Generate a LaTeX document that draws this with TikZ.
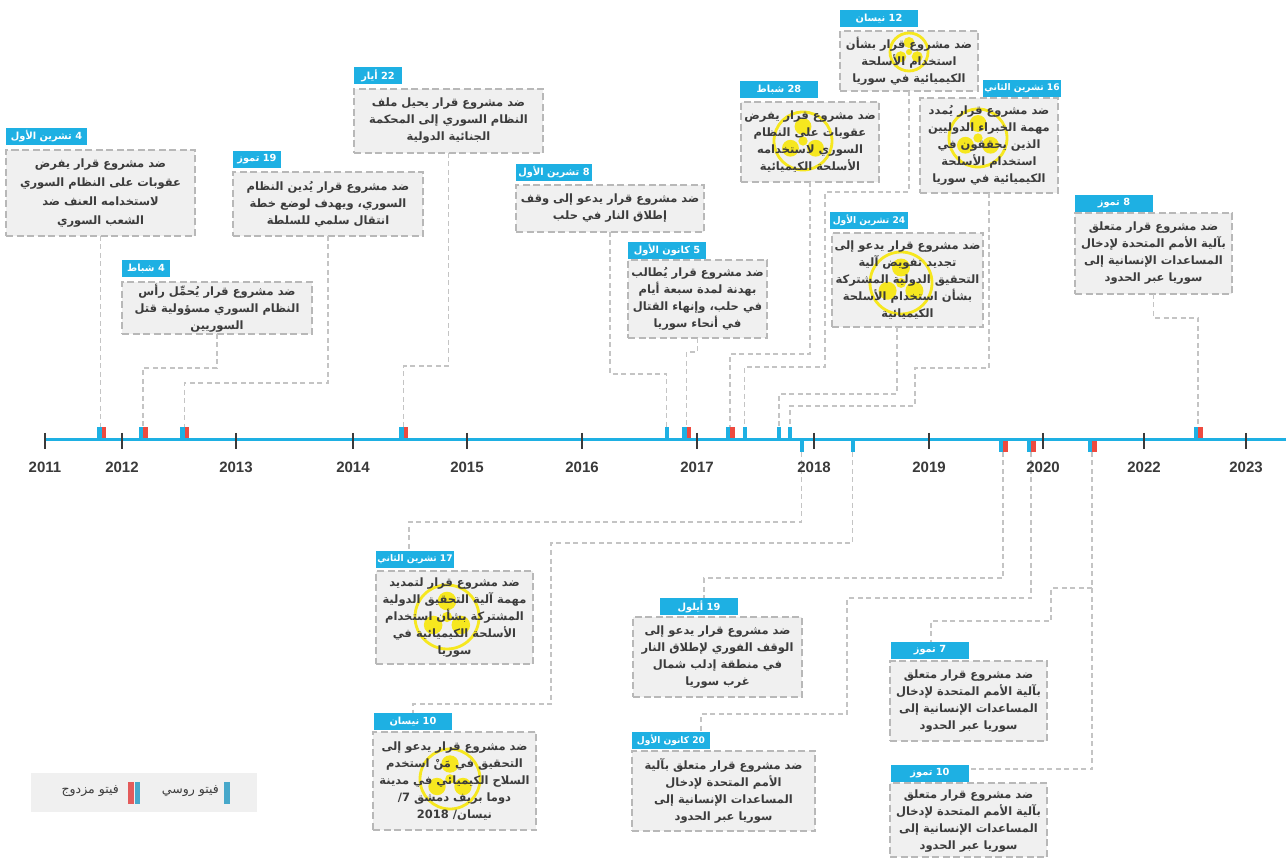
\documentclass[tikz,border=0pt]{standalone}
\usepackage{fontspec}
\TeXXeTstate=1
\newfontfamily\arabicfont[Script=Arabic]{DejaVu Sans}
\newfontfamily\latinfont{Liberation Sans}
\usetikzlibrary{calc}
\definecolor{tlblue}{HTML}{1EB0E3}
\definecolor{vred}{HTML}{EE4A3F}
\definecolor{lblblue}{HTML}{1EB0E3}
\definecolor{boxfill}{HTML}{F0F0F0}
\definecolor{boxborder}{HTML}{B8B8B8}
\definecolor{connc}{HTML}{C4C4C4}
\definecolor{textc}{HTML}{3C3C3C}
\definecolor{tickc}{HTML}{3A3A3A}
\definecolor{hzc}{HTML}{F6E71F}
\definecolor{legblue}{HTML}{47A8CA}
\definecolor{legred}{HTML}{E35B5B}
\newcommand\bx[5]{\node[vetobox, minimum width={#4-#2}, minimum height={#5-#3}] (#1) at ({(#2+#4)/2},{(#3+#5)/2}) {};}
\newcommand\lb[6]{\node[lbl, minimum width={#4-#2}, minimum height={#5-#3}] (#1) at ({(#2+#4)/2},{(#3+#5)/2}) {\beginR #6\endR};}
\newcommand\lbs[6]{\node[lbl, lblsmall, minimum width={#4-#2}, minimum height={#5-#3}] (#1) at ({(#2+#4)/2},{(#3+#5)/2}) {\beginR #6\endR};}
\newcommand\hazard[3]{\begin{scope}[shift={(#1,#2)}]
  \draw[hzc, line width=2.8pt] (0,0) circle (#3);
  \foreach \a in {-90,30,150} \fill[hzc] (\a:{0.5*#3}) circle ({0.29*#3});
  \fill[hzc] (0,0) circle ({0.16*#3});
 \end{scope}}
\newcommand\dmark[3]{\fill[tlblue] (#1-4.5,#2) rectangle (#1,#3); \fill[vred] (#1,#2) rectangle (#1+4.5,#3);}
\newcommand\smark[3]{\fill[tlblue] (#1-2,#2) rectangle (#1+2,#3);}
\newcommand\RL[1]{\beginR #1\endR}
\newcommand\LN[1]{\beginL #1\endL{}}
\begin{document}
\begin{tikzpicture}[x=1pt,y=-1pt,
 vetobox/.style={draw=boxborder, fill=boxfill, line width=1.4pt, dash pattern=on 7pt off 3.5pt, inner sep=0pt, outer sep=0pt},
 lbl/.style={fill=lblblue, text=white, inner sep=0pt, outer sep=0pt, font=\arabicfont\bfseries\fontsize{9.8}{10}\selectfont},
 lblsmall/.style={font=\arabicfont\bfseries\fontsize{9.1}{10}\selectfont},
 txt/.style={align=center, text=textc, inner sep=0pt, font=\arabicfont\bfseries\fontsize{11.5}{17}\selectfont},
 bigtxt/.style={txt, font=\arabicfont\bfseries\fontsize{11.5}{19}\selectfont},
 conn/.style={draw=connc, line width=1.3pt, dash pattern=on 5pt off 3.5pt},
 yr/.style={text=tickc, font=\latinfont\bfseries\fontsize{15}{15}\selectfont, inner sep=0pt},
 legtxt/.style={text=textc, inner sep=0pt, font=\arabicfont\fontsize{12.5}{13}\selectfont}]
\useasboundingbox (0,0) rectangle (1286,858);
\fill[white] (0,0) rectangle (1286,858);

% marker coordinates
\coordinate (mA) at (101.5,427);
\coordinate (mB) at (143,427);
\coordinate (mC) at (184.5,427);
\coordinate (mD) at (403.5,427);
\coordinate (mE) at (666.5,427);
\coordinate (mF) at (686.5,427);
\coordinate (mG) at (730,427);
\coordinate (mH) at (744.5,427);
\coordinate (mI) at (779,427);
\coordinate (mJ) at (790,427);
\coordinate (mK) at (1198,427);
\coordinate (mL) at (801.5,452);
\coordinate (mN) at (852.5,452);
\coordinate (mM) at (1003,452);
\coordinate (mO) at (1031,452);
\coordinate (mP) at (1092,452);
\coordinate (jP) at (1092,588);

% boxes
\bx{bA}{6}{150}{195}{236}
\bx{bB}{122}{282}{312}{334}
\bx{bC}{233}{172}{423}{236}
\bx{bD}{354}{89}{543}{153}
\bx{bE}{516}{185}{704}{232}
\bx{bF}{628}{260}{767}{338}
\bx{bG}{741}{102}{879}{182}
\bx{bH}{840}{31}{978}{91}
\bx{bJ}{920}{98}{1058}{193}
\bx{bI}{832}{233}{983}{327}
\bx{bK}{1075}{213}{1232}{294}
\bx{bL}{376}{571}{533}{664}
\bx{bM}{633}{617}{802}{697}
\bx{bN}{373}{732}{536}{830}
\bx{bO}{632}{751}{815}{831}
\bx{bP}{890}{661}{1047}{741}
\bx{bQ}{890}{783}{1047}{857}

% hazard symbols
\hazard{803}{141}{29}
\hazard{909}{52}{19}
\hazard{978}{138}{29}
\hazard{901}{283}{31}
\hazard{447}{617}{32}
\hazard{450}{779}{30}

% labels
\lb{lA}{6}{128}{87}{145}{\LN{4} تشرين الأول}
\lb{lB}{122}{260}{170}{277}{\LN{4} شباط}
\lb{lC}{233}{151}{281}{168}{\LN{19} تموز}
\lb{lD}{354}{67}{402}{84}{\LN{22} أيار}
\lb{lE}{516}{164}{592}{181}{\LN{8} تشرين الأول}
\lb{lF}{628}{242}{706}{259}{\LN{5} كانون الأول}
\lb{lG}{740}{81}{818}{98}{\LN{28} شباط}
\lb{lH}{840}{10}{918}{27}{\LN{12} نيسان}
\lbs{lJ}{983}{80}{1061}{97}{\LN{16} تشرين الثاني}
\lbs{lI}{830}{212}{908}{229}{\LN{24} تشرين الأول}
\lb{lK}{1075}{195}{1153}{212}{\LN{8} تموز}
\lbs{lL}{376}{551}{454}{568}{\LN{17} تشرين الثاني}
\lb{lM}{660}{598}{738}{615}{\LN{19} أيلول}
\lb{lN}{374}{713}{452}{730}{\LN{10} نيسان}
\lbs{lO}{632}{732}{710}{749}{\LN{20} كانون الأول}
\lb{lP}{891}{642}{969}{659}{\LN{7} تموز}
\lb{lQ}{891}{765}{969}{782}{\LN{10} تموز}

% texts
\node[bigtxt] (tA) at (bA.center) {\RL{ضد مشروع قرار يفرض}\\\RL{عقوبات على النظام السوري}\\\RL{لاستخدامه العنف ضد}\\\RL{الشعب السوري}};
\node[txt] (tB) at (bB.center) {\RL{ضد مشروع قرار يُحمِّل رأس}\\\RL{النظام السوري مسؤولية قتل}\\\RL{السوريين}};
\node[txt] (tC) at (bC.center) {\RL{ضد مشروع قرار يُدين النظام}\\\RL{السوري، ويهدف لوضع خطة}\\\RL{انتقال سلمي للسلطة}};
\node[txt] (tD) at (bD.center) {\RL{ضد مشروع قرار يحيل ملف}\\\RL{النظام السوري إلى المحكمة}\\\RL{الجنائية الدولية}};
\node[txt] (tE) at (bE.center) {\RL{ضد مشروع قرار يدعو إلى وقف}\\\RL{إطلاق النار في حلب}};
\node[txt] (tF) at (bF.center) {\RL{ضد مشروع قرار يُطالب}\\\RL{بهدنة لمدة سبعة أيام}\\\RL{في حلب، وإنهاء القتال}\\\RL{في أنحاء سوريا}};
\node[txt] (tG) at (bG.center) {\RL{ضد مشروع قرار يفرض}\\\RL{عقوبات على النظام}\\\RL{السوري لاستخدامه}\\\RL{الأسلحة الكيميائية}};
\node[txt] (tH) at (bH.center) {\RL{ضد مشروع قرار بشأن}\\\RL{استخدام الأسلحة}\\\RL{الكيميائية في سوريا}};
\node[txt] (tJ) at (bJ.center) {\RL{ضد مشروع قرار يُمدد}\\\RL{مهمة الخبراء الدوليين}\\\RL{الذين يحققون في}\\\RL{استخدام الأسلحة}\\\RL{الكيميائية في سوريا}};
\node[txt] (tI) at (bI.center) {\RL{ضد مشروع قرار يدعو إلى}\\\RL{تجديد تفويض آلية}\\\RL{التحقيق الدولية المشتركة}\\\RL{بشأن استخدام الأسلحة}\\\RL{الكيميائية}};
\node[txt] (tK) at (bK.center) {\RL{ضد مشروع قرار متعلق}\\\RL{بآلية الأمم المتحدة لإدخال}\\\RL{المساعدات الإنسانية إلى}\\\RL{سوريا عبر الحدود}};
\node[txt] (tL) at (bL.center) {\RL{ضد مشروع قرار لتمديد}\\\RL{مهمة آلية التحقيق الدولية}\\\RL{المشتركة بشأن استخدام}\\\RL{الأسلحة الكيميائية في}\\\RL{سوريا}};
\node[txt] (tM) at (bM.center) {\RL{ضد مشروع قرار يدعو إلى}\\\RL{الوقف الفوري لإطلاق النار}\\\RL{في منطقة  إدلب شمال}\\\RL{غرب سوريا}};
\node[txt] (tN) at (bN.center) {\RL{ضد مشروع قرار يدعو إلى}\\\RL{التحقيق في مَنْ استخدم}\\\RL{السلاح الكيميائي في مدينة}\\\RL{دوما بريف دمشق 7/}\\\RL{نيسان/ \LN{2018}}};
\node[txt] (tO) at (bO.center) {\RL{ضد مشروع قرار متعلق بآلية}\\\RL{الأمم المتحدة لإدخال}\\\RL{المساعدات الإنسانية إلى}\\\RL{سوريا عبر الحدود}};
\node[txt] (tP) at (bP.center) {\RL{ضد مشروع قرار متعلق}\\\RL{بآلية الأمم المتحدة لإدخال}\\\RL{المساعدات الإنسانية إلى}\\\RL{سوريا عبر الحدود}};
\node[txt, anchor=north] (tQ) at ($(bQ.north)+(0,7)$) {\RL{ضد مشروع قرار متعلق}\\\RL{بآلية الأمم المتحدة لإدخال}\\\RL{المساعدات الإنسانية إلى}\\\RL{سوريا عبر الحدود}};

% connectors above
\draw[conn] (bA.south) -- (bA.south |- mA);
\draw[conn] (bB.south) -- (bB.south |- 0,368) -| (mB);
\draw[conn] (bC.south) -- (bC.south |- 0,383) -| (mC);
\draw[conn] (bD.south) -- (bD.south |- 0,366) -| (mD);
\draw[conn] (bE.south) -- (bE.south |- 0,374) -| (mE);
\draw[conn] (bF.south) -- (bF.south |- 0,352) -| (mF);
\draw[conn] (bG.south) -- (bG.south |- 0,354) -| (mG);
\draw[conn] (bH.south) -- (bH.south |- 0,192) -| (825,367) -| (mH);
\draw[conn] (bI.south -| 897,0) -- (897,394) -| (mI);
\draw[conn] (bJ.south) -- (bJ.south |- 0,368) -| (915,406) -| (mJ);
\draw[conn] (bK.south) -- (bK.south |- 0,318) -| (mK);
% connectors below
\draw[conn] (mL) -- (mL |- 0,522) -| (lL.north -| 409,0);
\draw[conn] (mN) -- (mN |- 0,543) -| (551,704) -| (lN.north -| 413,0);
\draw[conn] (mM) -- (mM |- 0,578) -| (lM.north -| 704,0);
\draw[conn] (mO) -- (mO |- 0,598) -| (847,714) -| (lO.north -| 701,0);
\draw[conn] (mP) -- (1092,769) -- (lQ.east |- 0,769);
\draw[conn] (jP) -| (1051,621) -| (lP.north -| 931,0);

% timeline
\draw[tlblue, line width=3pt] (45,439.5) -- (1286,439.5);
\foreach \x/\y in {45/2011,122/2012,236/2013,353/2014,467/2015,582/2016,697/2017,814/2018,929/2019,1043/2020,1144/2022,1246/2023}{
  \draw[tickc, line width=2.4pt] (\x,433) -- (\x,449);
  \node[yr] (y\y) at (\x,467) {\y};
}
% markers
\dmark{101.5}{427}{438}
\dmark{143}{427}{438}
\dmark{184.5}{427}{438}
\dmark{403.5}{427}{438}
\smark{666.5}{427}{438}
\dmark{686.5}{427}{438}
\dmark{730}{427}{438}
\smark{744.5}{427}{438}
\smark{779}{427}{438}
\smark{790}{427}{438}
\dmark{1198}{427}{438}
\smark{801.5}{441}{452}
\smark{852.5}{441}{452}
\dmark{1003}{441}{452}
\dmark{1031}{441}{452}
\dmark{1092}{441}{452}

% legend
\node[fill=boxfill, minimum width=226, minimum height=39, inner sep=0pt] (leg) at (144,792.5) {};
\fill[legblue] (224,782) rectangle (229.5,804);
\node[legtxt, anchor=east] (legR) at (219,791) {\RL{فيتو روسي}};
\fill[legred] (128,782) rectangle (133.5,804);
\fill[legblue] (134.5,782) rectangle (140,804);
\node[legtxt, anchor=east] (legD) at (119,791) {\RL{فيتو مزدوج}};
\end{tikzpicture}
\end{document}
